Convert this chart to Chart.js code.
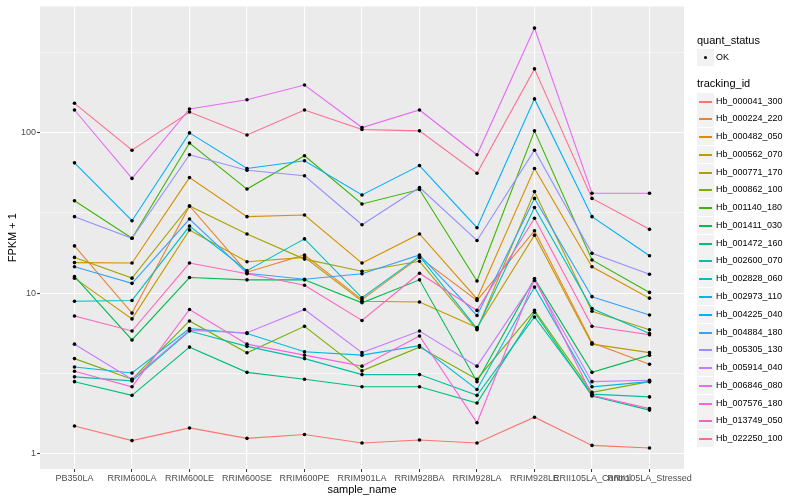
<!DOCTYPE html>
<html>
<head>
<meta charset="utf-8">
<script src="https://cdn.jsdelivr.net/npm/chart.js@4.4.1/dist/chart.umd.min.js"></script>
<style>
  body { margin: 0; background: #fff; }
  #wrap { position: relative; width: 800px; height: 500px; font-family: "Liberation Sans", Arial, sans-serif; }
  #expChart { position: absolute; left: 0; top: 0; }
  .ltitle { position: absolute; left: 697px; font-size: 11px; line-height: 13px; color: #000; white-space: nowrap; }
  .key { position: absolute; left: 697px; width: 17px; height: 17px; background: #F2F2F2; }
  .key .ln { position: absolute; display: block; left: 2px; width: 13px; top: 8px; height: 1.5px; }
  .key .dot { position: absolute; left: 7px; top: 7px; width: 3.4px; height: 3.4px; border-radius: 50%; background: #000; }
  .ltext { position: absolute; left: 716px; font-size: 9px; line-height: 17px; height: 17px; color: #000; white-space: nowrap; }
</style>
</head>
<body>
<div id="wrap">
  <canvas id="expChart" width="800" height="500"></canvas>
  <div id="legend"></div>
</div>
<script>
// samples on the x axis
const samples = ['PB350LA', 'RRIM600LA', 'RRIM600LE', 'RRIM600SE', 'RRIM600PE', 'RRIM901LA',
  'RRIM928BA', 'RRIM928LA', 'RRIM928LE', 'RRII105LA_Control', 'RRII105LA_Stressed'];

const trackingIds = ['Hb_000041_300', 'Hb_000224_220', 'Hb_000482_050', 'Hb_000562_070', 'Hb_000771_170',
  'Hb_000862_100', 'Hb_001140_180', 'Hb_001411_030', 'Hb_001472_160', 'Hb_002600_070',
  'Hb_002828_060', 'Hb_002973_110', 'Hb_004225_040', 'Hb_004884_180', 'Hb_005305_130',
  'Hb_005914_040', 'Hb_006846_080', 'Hb_007576_180', 'Hb_013749_050', 'Hb_022250_100'];

// ggplot default hue palette, 20 levels
const lineColors = ['#F8766D', '#EA8331', '#D89000', '#C09B00', '#A3A500', '#7CAE00', '#39B600', '#00BB4E',
  '#00BF7D', '#00C1A3', '#00BFC4', '#00BAE0', '#00B0F6', '#35A2FF', '#9590FF', '#C77CFF',
  '#E76BF3', '#FA62DB', '#FF62BC', '#FF6C91'];

// FPKM + 1 per sample
const hb_000041_300 = [1.48, 1.2, 1.44, 1.24, 1.31, 1.16, 1.21, 1.16, 1.68, 1.12, 1.08];
const hb_000224_220 = [19.7, 7.5, 35, 13.5, 17.3, 9.1, 16.7, 9.0, 24.5, 4.9, 3.6];
const hb_000482_050 = [15.5, 15.4, 52.6, 30, 30.7, 15.4, 23.4, 9.2, 60, 14.6, 9.3];
const hb_000562_070 = [12.4, 6.9, 24.8, 15.7, 16.7, 8.9, 8.8, 6.1, 23, 4.8, 4.25];
const hb_000771_170 = [16.7, 12.4, 35, 23.4, 16.3, 13.7, 15.8, 5.9, 43, 7.7, 5.9];
const hb_000862_100 = [3.9, 2.9, 6.7, 4.24, 6.2, 3.27, 4.6, 2.9, 7.8, 2.4, 2.8];
const hb_001140_180 = [37.7, 22, 86.5, 44.6, 72, 36, 44.3, 11.9, 103, 16.1, 10.1];
const hb_001411_030 = [12.7, 5.1, 12.5, 12.1, 12.1, 8.7, 12.1, 2.8, 12.3, 3.2, 4.1];
const hb_001472_160 = [2.8, 2.3, 4.6, 3.2, 2.9, 2.6, 2.6, 2.06, 7.6, 2.28, 1.86];
const hb_002600_070 = [3.0, 2.83, 5.8, 4.65, 3.9, 3.1, 3.1, 2.3, 7.1, 2.34, 2.25];
const hb_002828_060 = [8.9, 9.0, 26.2, 13.8, 21.8, 9.35, 17.0, 6.0, 34.2, 8.0, 5.6];
const hb_002973_110 = [3.46, 3.17, 6.0, 5.6, 4.3, 4.1, 4.7, 2.5, 10.9, 2.6, 2.8];
const hb_004225_040 = [65, 28.3, 100, 60, 67, 41, 62.5, 25.6, 163, 30, 17.1];
const hb_004884_180 = [14.6, 11.5, 29, 13.3, 12.2, 13.2, 17.3, 7.25, 39, 9.5, 7.3];
const hb_005305_130 = [30, 22, 73, 58.5, 54, 26.7, 45.6, 21.3, 78, 17.7, 13.1];
const hb_005914_040 = [4.8, 2.9, 5.85, 5.66, 7.9, 4.25, 5.8, 3.5, 12, 2.8, 2.86];
const hb_006846_080 = [139, 52, 141, 161, 199, 108, 139, 73, 451, 42, 42];
const hb_007576_180 = [3.25, 2.6, 7.9, 4.8, 4.1, 3.5, 5.4, 1.55, 12.3, 2.3, 1.9];
const hb_013749_050 = [7.2, 5.8, 15.4, 13.2, 11.2, 6.75, 13.3, 7.8, 29.3, 6.2, 5.5];
const hb_022250_100 = [153, 78, 135, 97, 139, 105, 103, 56, 251, 39, 25];

const seriesValues = [hb_000041_300, hb_000224_220, hb_000482_050, hb_000562_070, hb_000771_170,
  hb_000862_100, hb_001140_180, hb_001411_030, hb_001472_160, hb_002600_070,
  hb_002828_060, hb_002973_110, hb_004225_040, hb_004884_180, hb_005305_130,
  hb_005914_040, hb_006846_080, hb_007576_180, hb_013749_050, hb_022250_100];

// y axis breaks (log10), minor ones sit half way between
const yMajorTicks = [1, 10, 100];
const yMinorTicks = [3.1623, 31.623, 316.23];

const axisFont = { family: '"Liberation Sans", Arial, sans-serif', size: 9 };
const titleFont = { family: '"Liberation Sans", Arial, sans-serif', size: 11 };
const isMajor = v => yMajorTicks.includes(v);

const panelBg = {
  id: 'panelBg',
  beforeDraw(chart) {
    const { ctx, chartArea: a } = chart;
    ctx.save();
    ctx.fillStyle = '#EBEBEB';
    ctx.fillRect(a.left, a.top, a.right - a.left, a.bottom - a.top);
    ctx.restore();
  }
};

const datasets = seriesValues.map((vals, i) => ({
  label: trackingIds[i],
  data: vals.map((v, j) => ({ x: j, y: v })),
  borderColor: lineColors[i],
  borderWidth: 1.1,
  pointRadius: 0,
  fill: false,
  tension: 0,
  order: 20 - i
}));

// points on top of all lines
datasets.push({
  label: 'OK',
  data: seriesValues.flatMap(vals => vals.map((v, j) => ({ x: j, y: v }))),
  showLine: false,
  pointRadius: 1.8,
  pointBackgroundColor: '#000',
  pointBorderWidth: 0,
  order: -1
});

new Chart(document.getElementById('expChart'), {
  type: 'line',
  data: { datasets: datasets },
  plugins: [panelBg],
  options: {
    responsive: false,
    animation: false,
    layout: { padding: { top: 5, right: 116, left: 0, bottom: 0 } },
    plugins: { legend: { display: false }, tooltip: { enabled: false } },
    scales: {
      x: {
        type: 'linear',
        min: -0.6,
        max: 10.6,
        afterBuildTicks: s => { s.ticks = samples.map((_, i) => ({ value: i })); },
        afterFit: s => { s.height = 31; },
        ticks: {
          callback: v => samples[v],
          autoSkip: false, maxRotation: 0, minRotation: 0,
          font: axisFont, color: '#4D4D4D', padding: 1
        },
        grid: { color: '#FFFFFF', lineWidth: 1.1, tickLength: 3, tickColor: '#333333', tickWidth: 1 },
        border: { display: false },
        title: { display: true, text: 'sample_name', font: titleFont, color: '#000', padding: { top: 0, bottom: 3 } }
      },
      y: {
        type: 'logarithmic',
        min: 0.798,
        max: 616,
        afterBuildTicks: s => {
          s.ticks = yMajorTicks.concat(yMinorTicks).sort((a, b) => a - b).map(v => ({ value: v }));
        },
        afterFit: s => { s.width = 40; },
        ticks: {
          callback: v => isMajor(v) ? String(v) : '',
          autoSkip: false, font: axisFont, color: '#4D4D4D', padding: 1
        },
        grid: {
          color: '#FFFFFF',
          lineWidth: c => isMajor(c.tick.value) ? 1.1 : 0.55,
          tickLength: 3,
          tickWidth: 1,
          tickColor: c => isMajor(c.tick.value) ? '#333333' : 'rgba(0,0,0,0)'
        },
        border: { display: false },
        title: { display: true, text: 'FPKM + 1', font: titleFont, color: '#000', padding: { top: 6, bottom: 2 } }
      }
    }
  }
});

// ggplot-like legend
const legend = document.getElementById('legend');
let html = '<div class="ltitle" style="top:34px">quant_status</div>';
html += '<div class="key" style="top:49px"><span class="dot"></span></div>';
html += '<div class="ltext" style="top:49px">OK</div>';
html += '<div class="ltitle" style="top:77px">tracking_id</div>';
trackingIds.forEach((id, i) => {
  const top = Math.round(92.5 + i * 17.77);
  html += '<div class="key" style="top:' + top + 'px"><span class="ln" style="background-color:' + lineColors[i] + '"></span></div>';
  html += '<div class="ltext" style="top:' + top + 'px">' + id + '</div>';
});
legend.innerHTML = html;
</script>
</body>
</html>
